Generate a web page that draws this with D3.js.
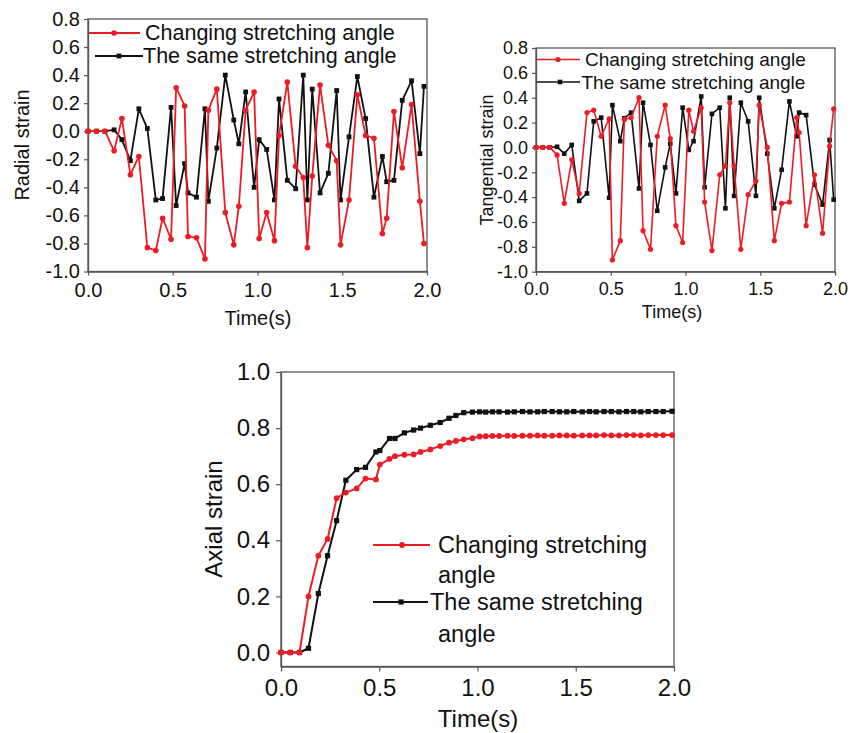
<!DOCTYPE html>
<html><head><meta charset="utf-8">
<script src="https://cdn.jsdelivr.net/npm/d3@7"></script>
<style>body{margin:0;background:#fff}svg{display:block;background:#fff}</style>
</head><body><svg id="c" width="861" height="733"></svg>
<script>
const seriesNames = ["Changing stretching angle", "The same stretching angle"];
const xTicks = [0.0, 0.5, 1.0, 1.5, 2.0];
const strainTicks = [-1.0, -0.8, -0.6, -0.4, -0.2, 0.0, 0.2, 0.4, 0.6, 0.8];
const axialTicks = [0.0, 0.2, 0.4, 0.6, 0.8, 1.0];

// Radial strain (top-left)
const radialTime = [0, 0.05, 0.10, 0.154, 0.20, 0.25, 0.30, 0.35, 0.40, 0.44, 0.49, 0.52, 0.57, 0.59, 0.64, 0.69, 0.71, 0.76, 0.81, 0.86, 0.89, 0.93, 0.98, 1.01, 1.054, 1.10, 1.127, 1.176, 1.225, 1.27, 1.294, 1.323, 1.369, 1.418, 1.467, 1.49, 1.54, 1.589, 1.638, 1.687, 1.737, 1.762, 1.805, 1.854, 1.909, 1.958, 1.982];
const radialChanging = [0, 0, 0, -0.14, 0.09, -0.31, -0.18, -0.83, -0.85, -0.62, -0.77, 0.31, 0.18, -0.75, -0.76, -0.91, 0.15, 0.30, -0.58, -0.81, -0.535, 0.15, 0.28, -0.765, -0.58, -0.78, -0.03, 0.35, -0.25, -0.33, -0.83, -0.32, 0.33, -0.10, -0.21, -0.81, -0.49, 0.26, -0.03, -0.05, -0.73, -0.62, 0.14, -0.26, 0.19, -0.50, -0.80];
const radialSame = [0, 0, 0, 0.01, -0.06, -0.21, 0.16, 0.02, -0.49, -0.48, 0.17, -0.53, -0.23, -0.44, -0.47, 0.16, -0.50, -0.12, 0.40, 0.08, -0.09, 0.28, -0.40, -0.06, -0.13, -0.49, 0.23, -0.35, -0.41, 0.40, -0.49, 0.30, -0.44, -0.30, 0.29, -0.49, -0.04, 0.39, 0.09, -0.47, -0.18, -0.36, -0.35, 0.22, 0.36, -0.16, 0.32];

// Tangential strain (top-right)
const tangTime = [0, 0.045, 0.092, 0.141, 0.189, 0.239, 0.289, 0.341, 0.386, 0.436, 0.489, 0.511, 0.564, 0.591, 0.636, 0.689, 0.716, 0.766, 0.811, 0.864, 0.898, 0.936, 0.981, 1.022, 1.054, 1.105, 1.128, 1.177, 1.229, 1.267, 1.296, 1.325, 1.37, 1.419, 1.471, 1.493, 1.547, 1.594, 1.643, 1.695, 1.744, 1.76, 1.807, 1.863, 1.917, 1.964, 1.991];
const tangChanging = [0, 0, 0, -0.06, -0.45, -0.10, -0.37, 0.28, 0.30, 0.09, 0.23, -0.905, -0.75, 0.225, 0.24, 0.40, -0.67, -0.82, 0.09, 0.34, 0.07, -0.63, -0.765, 0.30, 0.13, 0.32, -0.44, -0.83, -0.22, -0.15, 0.36, -0.15, -0.82, -0.38, -0.27, 0.34, 0.0, -0.75, -0.45, -0.44, 0.24, 0.12, -0.63, -0.22, -0.69, 0.01, 0.31];
const tangSame = [0, 0, 0, 0.005, -0.05, 0.02, -0.43, -0.37, 0.21, 0.24, -0.405, 0.34, 0.05, 0.235, 0.28, -0.33, 0.36, 0.02, -0.51, -0.16, 0.03, -0.37, 0.32, -0.02, 0.05, 0.41, -0.32, 0.27, 0.32, -0.49, 0.40, -0.39, 0.36, 0.21, -0.39, 0.40, -0.05, -0.49, -0.18, 0.37, 0.09, 0.28, 0.26, -0.30, -0.46, 0.06, -0.42];

// Axial strain (bottom)
const axialTime = [0, 0.047, 0.094, 0.14, 0.19, 0.237, 0.283, 0.33, 0.385, 0.43, 0.483, 0.503, 0.552, 0.58, 0.628, 0.675, 0.71, 0.76, 0.81, 0.855, 0.89, 0.93, 0.974, 1.011, 1.042, 1.076, 1.11, 1.153, 1.187, 1.229, 1.267, 1.306, 1.34, 1.38, 1.417, 1.454, 1.49, 1.533, 1.57, 1.604, 1.644, 1.681, 1.72, 1.758, 1.795, 1.831, 1.869, 1.908, 1.945, 1.99];
const axialChanging = [0, 0, 0, 0.20, 0.345, 0.405, 0.55, 0.57, 0.585, 0.62, 0.617, 0.67, 0.69, 0.70, 0.705, 0.706, 0.715, 0.724, 0.736, 0.748, 0.754, 0.76, 0.764, 0.770, 0.771, 0.772, 0.772, 0.773, 0.772, 0.773, 0.773, 0.774, 0.773, 0.773, 0.774, 0.774, 0.773, 0.774, 0.774, 0.774, 0.775, 0.774, 0.774, 0.775, 0.775, 0.774, 0.775, 0.775, 0.775, 0.775];
const axialSame = [0, 0, 0, 0.015, 0.21, 0.345, 0.47, 0.614, 0.652, 0.66, 0.715, 0.72, 0.763, 0.763, 0.783, 0.793, 0.80, 0.81, 0.82, 0.835, 0.845, 0.855, 0.857, 0.858, 0.857, 0.858, 0.858, 0.857, 0.858, 0.859, 0.858, 0.858, 0.859, 0.859, 0.858, 0.858, 0.859, 0.858, 0.859, 0.858, 0.859, 0.859, 0.858, 0.859, 0.859, 0.858, 0.859, 0.859, 0.859, 0.860];

const FONT = '"Liberation Sans", Arial, Helvetica, sans-serif';
const RED = "#ec1c24", BLACK = "#111111", AXIS = "#555555";
const svg = d3.select("#c");
svg.append("rect").attr("width", 861).attr("height", 733).attr("fill", "#fff");

function drawMarker(g, shape, cx, cy, size, color) {
  if (shape === "circle") {
    g.append("circle").attr("cx", cx).attr("cy", cy).attr("r", size).attr("fill", color);
  } else {
    g.append("rect").attr("x", cx - size).attr("y", cy - size).attr("width", 2 * size).attr("height", 2 * size).attr("fill", color);
  }
}

function panel(p) {
  const g = svg.append("g");
  const x = d3.scaleLinear().domain([0, 2]).range([p.left, p.right]);
  const y = d3.scaleLinear().domain(p.yDomain).range([p.bottom, p.top]);
  const fmt = d => d.toFixed(1);

  const ax = g.append("g").attr("transform", `translate(0,${p.bottom})`)
    .call(d3.axisBottom(x).tickValues(xTicks).tickFormat(fmt).tickSize(p.tick).tickPadding(p.padX).tickSizeOuter(0));
  const ay = g.append("g").attr("transform", `translate(${p.left},0)`)
    .call(d3.axisLeft(y).tickValues(p.yTicks).tickFormat(fmt).tickSize(p.tick).tickPadding(p.padY).tickSizeOuter(0));
  [ax, ay].forEach(a => {
    a.select(".domain").attr("stroke", AXIS).attr("stroke-width", 1.3);
    a.selectAll(".tick line").attr("stroke", AXIS).attr("stroke-width", 1.2);
    a.selectAll("text").attr("font-size", p.fs).attr("font-family", FONT).attr("fill", "#111");
  });
  g.append("rect").attr("x", p.left).attr("y", p.top).attr("width", p.right - p.left).attr("height", p.bottom - p.top)
    .attr("fill", "none").attr("stroke", AXIS).attr("stroke-width", 1.3);

  const line = d3.line().x(d => x(d[0])).y(d => y(d[1]));
  p.series.forEach(s => {
    const pts = p.time.map((t, i) => [t, s.values[i]]);
    g.append("path").attr("d", line(pts)).attr("fill", "none").attr("stroke", s.color).attr("stroke-width", p.lw).attr("stroke-linejoin", "round");
    pts.forEach(d => drawMarker(g, s.shape, x(d[0]), y(d[1]), s.shape === "circle" ? p.r : p.sq, s.color));
  });

  // axis titles
  g.append("text").attr("x", p.xlab[0]).attr("y", p.xlab[1]).attr("text-anchor", "middle").attr("dominant-baseline", "central")
    .attr("font-family", FONT).attr("font-size", p.labFs).attr("fill", "#111").text("Time(s)");
  g.append("text").attr("transform", `translate(${p.ylab[0]},${p.ylab[1]}) rotate(-90)`).attr("text-anchor", "middle").attr("dominant-baseline", "central")
    .attr("font-family", FONT).attr("font-size", p.labFs).attr("fill", "#111").text(p.ylabel);

  // legend
  p.legend.forEach(l => {
    g.append("line").attr("x1", l.x1).attr("x2", l.x2).attr("y1", l.y).attr("y2", l.y).attr("stroke", l.color).attr("stroke-width", p.lw);
    drawMarker(g, l.shape, l.mx, l.y, l.shape === "circle" ? p.r : p.sq, l.color);
    l.lines.forEach(tl => {
      g.append("text").attr("x", tl.x).attr("y", tl.y).attr("dominant-baseline", "central")
        .attr("font-family", FONT).attr("font-size", p.legFs).attr("fill", "#111").text(tl.text);
    });
  });
}

panel({
  left: 88, right: 427, top: 19, bottom: 271.5, yDomain: [-1.0, 0.8], yTicks: strainTicks,
  tick: 4, padX: 7, padY: 4, fs: 20, labFs: 20, legFs: 21.5, lw: 1.8, r: 2.8, sq: 2.4,
  time: radialTime, ylabel: "Radial strain", xlab: [258, 318], ylab: [22, 145],
  series: [
    { values: radialSame, color: BLACK, shape: "square" },
    { values: radialChanging, color: RED, shape: "circle" }
  ],
  legend: [
    { y: 33, x1: 89, x2: 140, mx: 114, color: RED, shape: "circle", lines: [{ x: 145, y: 33, text: seriesNames[0] }] },
    { y: 56, x1: 95, x2: 143, mx: 119, color: BLACK, shape: "square", lines: [{ x: 143, y: 56, text: seriesNames[1] }] }
  ]
});

panel({
  left: 536, right: 835, top: 48, bottom: 271.7, yDomain: [-1.0, 0.8], yTicks: strainTicks,
  tick: 4, padX: 7, padY: 4, fs: 18, labFs: 18, legFs: 19, lw: 1.6, r: 2.6, sq: 2.3,
  time: tangTime, ylabel: "Tangential strain", xlab: [672, 312], ylab: [487, 160],
  series: [
    { values: tangSame, color: BLACK, shape: "square" },
    { values: tangChanging, color: RED, shape: "circle" }
  ],
  legend: [
    { y: 59.5, x1: 537, x2: 580, mx: 558, color: RED, shape: "circle", lines: [{ x: 585, y: 59.5, text: seriesNames[0] }] },
    { y: 82, x1: 537, x2: 580, mx: 560, color: BLACK, shape: "square", lines: [{ x: 581.5, y: 82, text: seriesNames[1] }] }
  ]
});

panel({
  left: 281, right: 674, top: 372, bottom: 666.5, yDomain: [-0.05, 1.0], yTicks: axialTicks,
  tick: 5, padX: 7, padY: 6, fs: 24, labFs: 24, legFs: 23.5, lw: 2, r: 2.9, sq: 2.6,
  time: axialTime, ylabel: "Axial strain", xlab: [478, 718], ylab: [213, 519],
  series: [
    { values: axialSame, color: BLACK, shape: "square" },
    { values: axialChanging, color: RED, shape: "circle" }
  ],
  legend: [
    { y: 545, x1: 373, x2: 430, mx: 402, color: RED, shape: "circle",
      lines: [{ x: 438, y: 545, text: "Changing stretching" }, { x: 438, y: 575, text: "angle" }] },
    { y: 602, x1: 373, x2: 428, mx: 401, color: BLACK, shape: "square",
      lines: [{ x: 430, y: 602, text: "The same stretching" }, { x: 438, y: 634, text: "angle" }] }
  ]
});
</script>
</body></html>
